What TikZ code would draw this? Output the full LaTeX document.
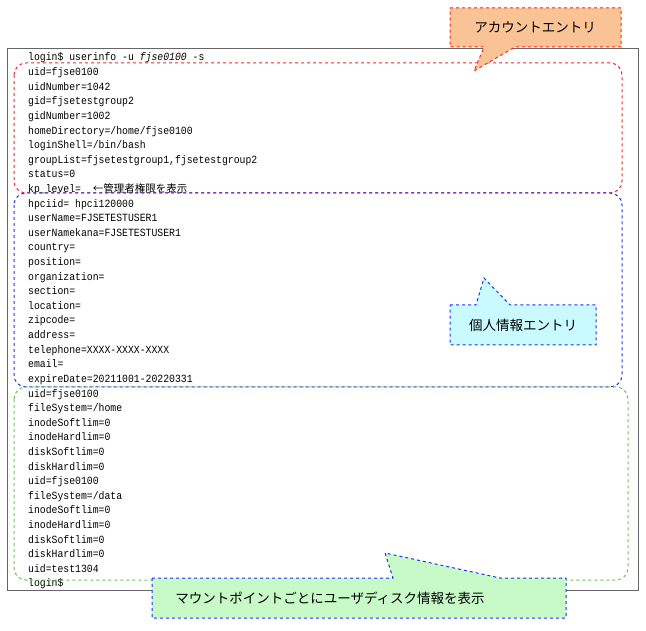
\documentclass[tikz,border=0pt]{standalone}
\usepackage{fontspec}
\newfontfamily\codefont[FakeStretch=0.89]{Liberation Mono}
\newfontfamily\cjk{Noto Sans CJK JP}
\usetikzlibrary{positioning}
\tikzset{
  codeline/.style={anchor=base west, inner sep=0pt, font=\codefont\fontsize{11}{11}\selectfont},
  group/.style={dashed, rounded corners=12pt, line width=1pt},
  callout/.style={dashed, line width=1pt, draw=#1},
  calltext/.style={font=\cjk\fontsize{13.5}{13.5}\selectfont, inner sep=0pt}
}
\definecolor{acctred}{RGB}{245,40,40}
\definecolor{persblue}{RGB}{30,50,240}
\definecolor{mntgreen}{RGB}{100,200,80}
\definecolor{acctfill}{RGB}{250,195,150}
\definecolor{persfill}{RGB}{200,250,255}
\definecolor{mntfill}{RGB}{200,250,200}
\begin{document}
\begin{tikzpicture}[x=1pt,y=-1pt]
  \useasboundingbox (0,0) rectangle (646,631);

  % Terminal frame
  \draw[gray!80!black] (7,48) rectangle (638,590);

  % Terminal output
  \node[codeline] (l0) at (28,61) {login\$ userinfo -u \textit{fjse0100} -s};
  \foreach \txt [count=\i] in {uid=fjse0100, uidNumber=1042, gid=fjsetestgroup2,
      gidNumber=1002, homeDirectory=/home/fjse0100, loginShell=/bin/bash,
      {groupList=fjsetestgroup1,fjsetestgroup2}, status=0,
      {kp\_level=\ \ {\cjk\fontsize{10.5}{10.5}\selectfont ←管理者権限を表示}},
      hpciid= hpci120000, userName=FJSETESTUSER1, userNamekana=FJSETESTUSER1,
      country=, position=, organization=, section=, location=, zipcode=,
      address=, telephone=XXXX-XXXX-XXXX, email=, expireDate=20211001-20220331,
      uid=fjse0100, fileSystem=/home, inodeSoftlim=0, inodeHardlim=0,
      diskSoftlim=0, diskHardlim=0, uid=fjse0100, fileSystem=/data,
      inodeSoftlim=0, inodeHardlim=0, diskSoftlim=0, diskHardlim=0,
      uid=test1304, login\$}
    \node[codeline] (l\i) at (28,{61+14.61*\i}) {\txt};

  % Entry groups
  \draw[group, acctred] (14,63) rectangle (622,193);
  \draw[group, persblue] (14,193) rectangle (622,387);
  \draw[group, mntgreen] (14,387) rectangle (628,580);

  % Account entry callout
  \draw[callout=acctred, fill=acctfill] (450,8) -- (621,8) -- (621,47) -- (515,47)
    -- (474,71) -- (484,47) -- (450,47) -- cycle;
  \node[calltext] (acct) at (535,27) {アカウントエントリ};

  % Personal info callout
  \draw[callout=persblue, fill=persfill] (450,305) -- (476,305) -- (484,278)
    -- (510,305) -- (596,305) -- (596,345) -- (450,345) -- cycle;
  \node[calltext] (pers) at (523,325) {個人情報エントリ};

  % Mount point callout
  \draw[callout=persblue, fill=mntfill] (152,578) -- (393,578) -- (385,553)
    -- (500,578) -- (566,578) -- (566,618) -- (152,618) -- cycle;
  \node[calltext] (mnt) at (330,598) {マウントポイントごとにユーザディスク情報を表示};
\end{tikzpicture}
\end{document}
